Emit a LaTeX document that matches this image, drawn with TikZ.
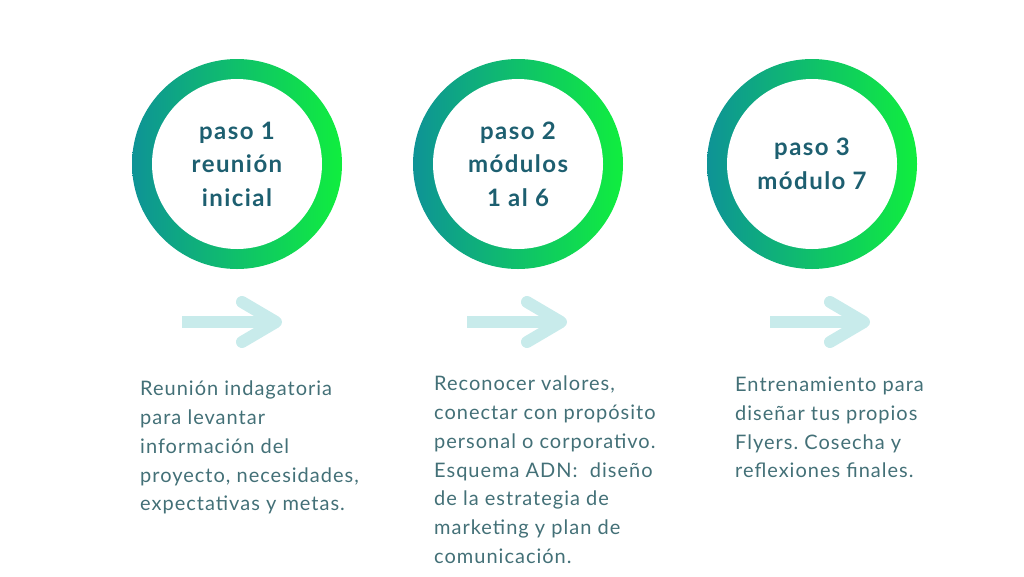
\documentclass[tikz,border=0pt]{standalone}
\usepackage{fontspec}
\setmainfont{Lato}
\usetikzlibrary{calc}
\definecolor{colTeal}{HTML}{0E9396}
\definecolor{colVerde}{HTML}{10EE3E}
\definecolor{colTitulo}{HTML}{1D5F70}
\definecolor{colTexto}{HTML}{437077}
\definecolor{colFlecha}{HTML}{C8EBEB}
\frenchspacing
\tikzset{
  titulo/.style={font=\fontsize{24}{33.5}\selectfont\bfseries\addfontfeatures{LetterSpace=6}, text=colTitulo, align=center},
  texto/.style={font=\fontsize{20}{28.7}\selectfont\addfontfeatures{LetterSpace=5}, text=colTexto, align=left, anchor=north west, inner sep=0pt},
  flecha/.style={draw=colFlecha, line width=12pt, line join=round},
}

\begin{document}
\begin{tikzpicture}[x=1pt,y=-1pt]
  \useasboundingbox (0,0) rectangle (1024,576);
  \coordinate (C1) at (237,164);
  \coordinate (C2) at (518,164);
  \coordinate (C3) at (812,164);
  \coordinate (F1) at (232,322);
  \coordinate (F2) at (517,322);
  \coordinate (F3) at (820,322);
  % anillos
  \foreach \c in {C1,C2,C3}{
    \shade[left color=colTeal, right color=colVerde] (\c) circle (105pt);
    \fill[white] (\c) circle (85pt);
  }
  \node[titulo] (paso1) at (C1) {paso 1\\reunión\\inicial};
  \node[titulo] (paso2) at (C2) {paso 2\\módulos\\1 al 6};
  \node[titulo] (paso3) at (C3) {paso 3\\módulo 7};
  % flechas
  \foreach \f in {F1,F2,F3}{
    \draw[flecha] ($(\f)+(-50,0)$) -- ($(\f)+(44,0)$);
    \draw[flecha, line cap=round] ($(\f)+(10,-20)$) -- ($(\f)+(44,0)$) -- ($(\f)+(10,20)$);
  }
  % textos
  \node[texto] (texto1) at (140,381) {Reunión indagatoria\\para levantar\\información del\\proyecto, necesidades,\\expectativas y metas.};
  \node[texto] (texto2) at (434,376) {Reconocer valores,\\conectar con propósito\\personal o corporativo.\\Esquema ADN:~ diseño\\de la estrategia de\\marketing y plan de\\comunicación.};
  \node[texto] (texto3) at (735,377) {Entrenamiento para\\diseñar tus propios\\Flyers. Cosecha y\\reflexiones finales.};
\end{tikzpicture}
\end{document}
